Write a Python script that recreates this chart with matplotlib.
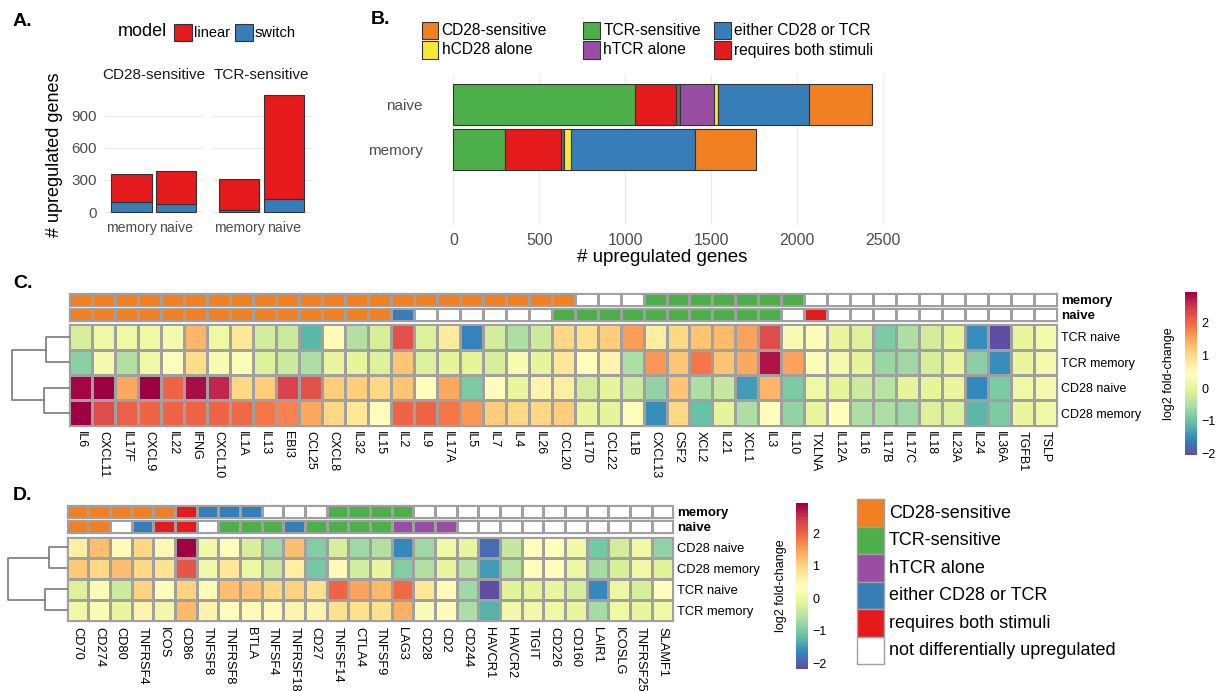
import numpy as np
import matplotlib as mpl
import matplotlib.pyplot as plt
from matplotlib.colors import Normalize, ListedColormap
from matplotlib.patches import Rectangle

plt.rcParams['font.family'] = ['Liberation Sans', 'DejaVu Sans']

W, H = 1218, 691

# ---------------- data ----------------
# panel A: upregulated genes by model
a_facets = ['CD28-sensitive', 'TCR-sensitive']
a_cells = ['memory', 'naive']
a_switch_cd28 = [96, 75]
a_linear_cd28 = [262, 308]
a_switch_tcr = [24, 121]
a_linear_tcr = [284, 975]

# panel B: gene categories per cell type (stacking order left to right)
b_cells = ['memory', 'naive']
b_categories = ['TCR-sensitive', 'requires both stimuli', 'unassigned', 'hTCR alone',
                'hCD28 alone', 'either CD28 or TCR', 'CD28-sensitive']
b_memory = [299, 327, 17, 0, 41, 721, 355]
b_naive = [1056, 239, 20, 198, 23, 534, 363]
b_legend_order = ['CD28-sensitive', 'hCD28 alone', 'TCR-sensitive', 'hTCR alone',
                  'either CD28 or TCR', 'requires both stimuli']

# panel C: cytokines
c_genes = ['IL6', 'CXCL11', 'IL17F', 'CXCL9', 'IL22', 'IFNG', 'CXCL10', 'IL1A', 'IL13', 'EBI3',
           'CCL25', 'CXCL8', 'IL32', 'IL15', 'IL2', 'IL9', 'IL17A', 'IL5', 'IL7', 'IL4', 'IL26',
           'CCL20', 'IL17D', 'CCL22', 'IL1B', 'CXCL13', 'CSF2', 'XCL2', 'IL21', 'XCL1', 'IL3',
           'IL10', 'TXLNA', 'IL12A', 'IL16', 'IL17B', 'IL17C', 'IL18', 'IL23A', 'IL24', 'IL36A',
           'TGFB1', 'TSLP']
c_rows = ['TCR naive', 'TCR memory', 'CD28 naive', 'CD28 memory']
c_tcr_naive = [-0.2, 0.1, 0.15, 0.1, 0.2, 1.35, 0.15, 0.85, -0.25, -0.3, -1.15, 0.5, -0.45, -0.2,
               2.2, -0.15, 0.8, -1.55, -0.25, -0.5, -0.3, 1.05, 0.9, 1.1, 1.55, 0.75, 1.05, 1.2,
               1.3, 1.5, 2.25, 0.3, 0.4, 0.0, -0.15, -0.85, -0.5, -0.25, -0.05, -1.45, -2.05,
               0.05, 0.2]
c_tcr_memory = [-0.75, 0.2, -0.45, 0.1, 0.45, 0.95, 0.3, 0.35, -0.15, -0.3, -0.5, 0.05, -0.05,
                -0.1, 1.25, -0.1, -0.05, -0.05, -0.2, 0.3, -0.05, 0.85, 0.45, 0.65, -0.5, 1.6,
                1.2, 1.85, 1.2, 1.45, 2.75, 1.5, 0.4, 0.2, -0.05, -0.65, -0.6, -0.2, 0.0, -0.75,
                -1.45, 0.05, 0.2]
c_cd28_naive = [2.85, 2.95, 1.45, 2.95, 2.0, 2.8, 2.65, 1.0, 1.1, 2.35, 2.2, 1.1, 1.1, 1.0, 1.25,
                0.45, 1.45, -0.85, 0.45, 0.05, 0.65, 0.75, -0.25, -0.05, -0.3, -0.7, 1.25, -0.5,
                -0.35, -1.35, 1.35, -0.9, 0.1, -0.05, -0.3, -0.4, -0.05, -0.05, 0.0, -1.5, -0.9,
                0.1, 0.2]
c_cd28_memory = [2.95, 2.3, 2.05, 2.0, 2.0, 2.0, 2.0, 1.95, 1.85, 1.75, 1.45, 1.05, 0.85, 0.45,
                 2.0, 2.0, 1.9, 1.6, 1.1, 1.05, 1.0, 1.15, 0.0, -0.05, 0.45, -1.45, 1.05, -1.0,
                 -0.05, -0.5, 0.45, -0.7, 0.05, 0.45, -0.5, -0.5, -0.6, -0.1, -0.1, -1.15, -0.85,
                 0.05, 0.15]
# annotation codes: C=CD28-sensitive T=TCR-sensitive H=hTCR alone E=either B=both -=none
c_ann_memory = 'CCCCCCCCCCCCCCCCCCCCCC---TTTTTTT-----------'
c_ann_naive = 'CCCCCCCCCCCCCCE------TTTTTTTTTT-B----------'
c_merge = [22, 24, 55]
c_range = [-2.05, 2.95]

# panel D: co-stimulatory molecules
d_genes = ['CD70', 'CD274', 'CD80', 'TNFRSF4', 'ICOS', 'CD86', 'TNFSF8', 'TNFRSF8', 'BTLA',
           'TNFSF4', 'TNFRSF18', 'CD27', 'TNFSF14', 'CTLA4', 'TNFSF9', 'LAG3', 'CD28', 'CD2',
           'CD244', 'HAVCR1', 'HAVCR2', 'TIGIT', 'CD226', 'CD160', 'LAIR1', 'ICOSLG',
           'TNFRSF25', 'SLAMF1']
d_rows = ['CD28 naive', 'CD28 memory', 'TCR naive', 'TCR memory']
d_cd28_naive = [0.65, 1.2, 0.45, 0.95, 0.5, 2.9, 0.1, 0.4, -0.25, -0.7, 1.2, -0.9, -0.25, -0.7,
                -0.55, -1.65, -0.7, 0.05, -0.05, -1.9, -0.4, 0.4, 0.35, 0.1, -1.0, -0.3, 0.05,
                -0.8]
d_cd28_memory = [1.1, 0.95, 1.2, 0.95, 0.8, 2.15, 0.1, 0.75, 0.0, -0.35, 0.65, -1.05, 0.45,
                 -0.3, -0.05, -0.9, -0.55, -0.05, -0.5, -1.5, -0.5, 0.4, 0.4, 0.0, -0.65, -0.25,
                 0.05, -0.15]
d_tcr_naive = [-0.2, 0.25, -0.35, 1.0, 0.4, 1.0, 0.45, 1.2, 1.15, 0.95, 1.0, 0.85, 2.0, 1.45,
               1.25, 1.95, 0.75, 0.45, -0.7, -2.15, -0.15, -0.1, -0.05, -0.25, -1.65, 0.0, -0.25,
               0.4]
d_tcr_memory = [0.05, 0.25, -0.05, 0.55, 0.1, 1.25, 0.55, 0.4, 0.45, 0.45, 0.55, 0.55, 0.85,
                0.85, 0.85, 1.35, 0.25, 0.4, -0.6, -1.3, 0.1, 0.1, 0.05, -0.05, -0.65, 0.05,
                -0.05, 0.05]
d_ann_memory = 'CCCCCBEEE---TTTT------------'
d_ann_naive = 'CC-EBB-TTTETTTTHHH----------'
d_merge = [17, 21, 57]
d_range = [-2.17, 2.92]

d_legend = ['CD28-sensitive', 'TCR-sensitive', 'hTCR alone', 'either CD28 or TCR',
            'requires both stimuli', 'not differentially upregulated']

# ---------------- styling ----------------
cat_colors = {
    'CD28-sensitive': '#F08022',
    'TCR-sensitive': '#4DAF4A',
    'hTCR alone': '#984EA3',
    'hCD28 alone': '#F7E92F',
    'either CD28 or TCR': '#377EB8',
    'requires both stimuli': '#E41A1C',
    'unassigned': '#666666',
    'not differentially upregulated': '#FFFFFF',
}
code_colors = {'C': cat_colors['CD28-sensitive'], 'T': cat_colors['TCR-sensitive'],
               'H': cat_colors['hTCR alone'], 'E': cat_colors['either CD28 or TCR'],
               'B': cat_colors['requires both stimuli'], '-': '#FFFFFF'}
linear_col = '#E41A1C'
switch_col = '#377EB8'
grid_col = '#EBEBEB'
tick_col = '#4D4D4D'
cell_edge = '#A0A0A0'
hm_cmap = plt.get_cmap('Spectral_r', 100)

fig = plt.figure(figsize=(W / 100, H / 100), dpi=100)


def px_axes(x0, y0, x1, y1):
    return fig.add_axes([x0 / W, 1 - y1 / H, (x1 - x0) / W, (y1 - y0) / H])


def px_text(x, y, s, **kw):
    return fig.text(x / W, 1 - y / H, s, **kw)


def px_box(x0, y0, x1, y1, color, edge, lw=0.8):
    fig.add_artist(Rectangle((x0 / W, 1 - y1 / H), (x1 - x0) / W, (y1 - y0) / H,
                             transform=fig.transFigure, facecolor=color, edgecolor=edge, lw=lw))


# ---------------- panel A ----------------
px_text(13, 22, 'A.', fontsize=14, fontweight='bold', va='center')
px_text(118, 32, 'model', fontsize=13, va='center')
px_box(174, 24, 192, 41, linear_col, '#333333')
px_text(194, 33, 'linear', fontsize=10.5, va='center')
px_box(235, 24, 253, 41, switch_col, '#333333')
px_text(255, 33, 'switch', fontsize=10.5, va='center')
px_text(55, 155, '# upregulated genes', fontsize=13, rotation=90, ha='center', va='center')

a_boxes = [(104.8, 89, 202.7, 218), (212.3, 89, 310.7, 218)]
a_data = [(a_switch_cd28, a_linear_cd28), (a_switch_tcr, a_linear_tcr)]
for i, (facet, box, (sw, lin)) in enumerate(zip(a_facets, a_boxes, a_data)):
    ax = px_axes(*box)
    x = np.arange(1, len(a_cells) + 1)
    ax.bar(x, sw, width=0.9, color=switch_col, edgecolor='#333333', lw=0.8, zorder=3)
    ax.bar(x, lin, bottom=sw, width=0.9, color=linear_col, edgecolor='#333333', lw=0.8, zorder=3)
    ax.set_xlim(0.4, 2.6)
    ax.set_ylim(-55, 1150)
    ax.set_yticks([0, 300, 600, 900])
    ax.set_xticks(x)
    ax.set_xticklabels(a_cells)
    ax.grid(axis='y', color=grid_col, lw=0.9, zorder=0)
    for s in ax.spines.values():
        s.set_visible(False)
    ax.tick_params(length=0, labelsize=11, labelcolor=tick_col, pad=2)
    ax.tick_params(axis='x', labelsize=10.2)
    ax.tick_params(axis='y', pad=6)
    if i > 0:
        ax.set_yticklabels([])
    px_text((box[0] + box[2]) / 2, 75, facet, fontsize=11, ha='center', va='center',
            color='#1A1A1A')

# ---------------- panel B ----------------
px_text(371, 20, 'B.', fontsize=14, fontweight='bold', va='center')
leg_pos = [(421.7, 21.7), (421.7, 41), (583.3, 21.7), (583.3, 41), (714.3, 21.7), (714.3, 41)]
for name, (lx, ly) in zip(b_legend_order, leg_pos):
    px_box(lx, ly, lx + 16.6, ly + 17.6, cat_colors[name], '#333333')
    px_text(lx + 20, ly + 9, name, fontsize=11.2, va='center')

axb = px_axes(432.5, 75, 892.8, 225)
b_vals = [b_memory, b_naive]
for yi, vals in enumerate(b_vals, start=1):
    left = 0
    for cat, v in zip(b_categories, vals):
        if v > 0:
            axb.barh(yi, v, left=left, height=0.9, color=cat_colors[cat],
                     edgecolor='#333333', lw=0.8, zorder=3)
        left += v
axb.set_xlim(-121, 2555)
axb.set_ylim(-0.66, 2.64)
axb.set_yticks([1, 2])
axb.set_yticklabels(b_cells)
axb.set_xticks([0, 500, 1000, 1500, 2000, 2500])
axb.grid(axis='x', color=grid_col, lw=0.9, zorder=0)
for s in axb.spines.values():
    s.set_visible(False)
axb.tick_params(length=0, labelsize=11, labelcolor=tick_col)
axb.tick_params(axis='x', pad=6, labelsize=11.5)
axb.tick_params(axis='y', pad=7)
px_text(662, 258, '# upregulated genes', fontsize=13.5, ha='center', va='center')


# ---------------- heatmaps ----------------
def draw_dendro(box, merge):
    ax = px_axes(*box)
    h1, h2, hr = merge
    kw = dict(color='#7A7A7A', lw=1.2, clip_on=False)
    ax.plot([0, h1, h1, 0], [0.5, 0.5, 1.5, 1.5], **kw)
    ax.plot([0, h2, h2, 0], [2.5, 2.5, 3.5, 3.5], **kw)
    ax.plot([h1, hr, hr, h2], [1, 1, 3, 3], **kw)
    ax.set_xlim(hr, 0)
    ax.set_ylim(4, 0)
    ax.axis('off')


def draw_heatmap(x0, x1, ann_y, hm_y, genes, rows, mat, anns, vrange, label_size):
    norm = Normalize(vrange[0], vrange[1])
    n = len(genes)
    for (y0, y1), (lab, codes) in zip(ann_y, anns):
        ax = px_axes(x0, y0, x1, y1)
        cmap = ListedColormap([code_colors[c] for c in codes])
        ax.pcolormesh(np.arange(n)[None, :], cmap=cmap, vmin=-0.5, vmax=n - 0.5,
                      edgecolors=cell_edge, linewidth=0.9)
        ax.set_xlim(0, n)
        ax.set_ylim(0, 1)
        ax.set_xticks([])
        ax.yaxis.tick_right()
        ax.set_yticks([0.5])
        ax.set_yticklabels([lab], fontweight='bold')
        ax.tick_params(length=0, labelsize=9.5, pad=3)
        for s in ax.spines.values():
            s.set_edgecolor(cell_edge)
            s.set_linewidth(0.9)
    ax = px_axes(x0, hm_y[0], x1, hm_y[1])
    ax.pcolormesh(np.array(mat), cmap=hm_cmap, norm=norm, edgecolors=cell_edge, linewidth=0.9)
    ax.set_xlim(0, n)
    ax.set_ylim(len(rows), 0)
    ax.set_xticks(np.arange(n) + 0.5)
    ax.set_xticklabels(genes, rotation=270, ha='center', va='top')
    ax.yaxis.tick_right()
    ax.set_yticks(np.arange(len(rows)) + 0.5)
    ax.set_yticklabels(rows)
    ax.tick_params(length=0, labelsize=label_size, pad=3)
    ax.tick_params(axis='x', pad=4)
    for s in ax.spines.values():
        s.set_edgecolor(cell_edge)
        s.set_linewidth(0.9)


def draw_cbar(box, vrange, label_x):
    cax = px_axes(*box)
    sm = mpl.cm.ScalarMappable(norm=Normalize(vrange[0], vrange[1]), cmap=hm_cmap)
    cb = fig.colorbar(sm, cax=cax, ticks=[-2, -1, 0, 1, 2])
    cb.outline.set_visible(False)
    cax.tick_params(length=0, labelsize=9, pad=3)
    px_text(label_x, (box[1] + box[3]) / 2, 'log2 fold-change', rotation=90, fontsize=9,
            ha='center', va='center')


# panel C
px_text(13, 284, 'C.', fontsize=14, fontweight='bold', va='center')
draw_heatmap(69.3, 1057, [(292.7, 306), (308, 321.3)], (324.3, 425.7), c_genes, c_rows,
             [c_tcr_naive, c_tcr_memory, c_cd28_naive, c_cd28_memory],
             [('memory', c_ann_memory), ('naive', c_ann_naive)], c_range, 9)
draw_dendro((11.7, 324.3, 69.3, 425.7), c_merge)
draw_cbar((1185, 291.7, 1197, 455), c_range, 1169)

# panel D
px_text(13, 495, 'D.', fontsize=14, fontweight='bold', va='center')
draw_heatmap(66.7, 673.3, [(505, 517.7), (520, 533.3)], (536.7, 621), d_genes, d_rows,
             [d_cd28_naive, d_cd28_memory, d_tcr_naive, d_tcr_memory],
             [('memory', d_ann_memory), ('naive', d_ann_naive)], d_range, 9.3)
draw_dendro((8.3, 536.7, 66.7, 621), d_merge)
draw_cbar((796, 503.3, 808.3, 669), d_range, 781)

for i, name in enumerate(d_legend):
    ly = 499.3 + i * 27.5
    px_box(857.3, ly, 884, ly + 27.5, cat_colors[name], cell_edge, lw=1.0)
    px_text(889, ly + 14, name, fontsize=13, va='center')

fig.savefig('out.png', dpi=100)
